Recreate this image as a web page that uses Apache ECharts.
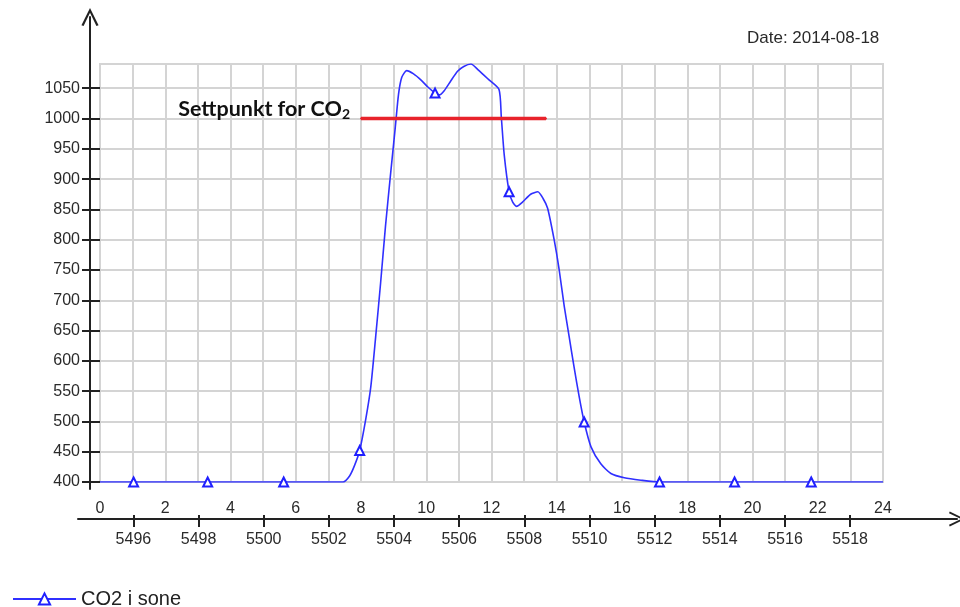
<!DOCTYPE html>
<html>
<head>
<meta charset="utf-8">
<script src="https://cdn.jsdelivr.net/npm/echarts@6/dist/echarts.min.js"></script>
<style>
html,body{margin:0;padding:0;background:#fff;}
#c{width:960px;height:607px;}
</style>
</head>
<body>
<div id="c"></div>
<script>
// ---- data ----
const seriesName = 'CO2 i sone';
const hours = [0, 1.03, 3.3, 5.63, 7.45, 7.65, 7.8, 7.96, 8.15, 8.3, 8.45, 8.6, 8.75, 8.9, 9.05, 9.15, 9.25, 9.4, 9.6, 9.85, 10.05, 10.27, 10.4, 10.55, 10.75, 10.96, 11.15, 11.37, 11.6, 11.9, 12.23, 12.3, 12.39, 12.54, 12.65, 12.77, 12.95, 13.2, 13.42, 13.58, 13.72, 13.92, 14.07, 14.23, 14.38, 14.53, 14.69, 14.84, 15.05, 15.35, 15.66, 16.07, 16.58, 17.15, 19.45, 21.8, 24];
const co2 =   [400, 400, 400, 400, 400, 410, 427, 452, 505, 557, 640, 728, 822, 905, 985, 1040, 1068, 1079, 1074, 1063, 1052, 1042, 1039, 1046, 1062, 1078, 1086, 1090, 1080, 1065, 1048, 1003, 940, 879, 862, 855, 862, 875, 879, 868, 852, 800, 752, 690, 640, 590, 540, 499, 458, 430, 414, 407, 403, 400, 400, 400, 400];
const markerHours = [1.03, 3.3, 5.63, 7.96, 10.27, 12.54, 14.84, 17.15, 19.45, 21.8];
const setpointHours = [8, 13.67];
const setpointValues = [1000, 1000];
const setpointLabel = 'Settpunkt for CO';
const yTickValues = [400, 450, 500, 550, 600, 650, 700, 750, 800, 850, 900, 950, 1000, 1050];
const sampleTickValues = [5496, 5498, 5500, 5502, 5504, 5506, 5508, 5510, 5512, 5514, 5516, 5518];
const sampleRange = [5494.3, 5521.28];
const dateText = 'Date: 2014-08-18';

// ---- build ----
const lineData = hours.map((h, i) => {
  const isMarker = markerHours.indexOf(h) >= 0;
  return isMarker ? {value: [h, co2[i]]} : {value: [h, co2[i]], symbol: 'none'};
});
const setpointData = setpointHours.map((h, i) => ({value: [h, setpointValues[i]]}));
setpointData[0].label = {
  show: true, position: 'left', distance: 10, offset: [0, -9],
  formatter: '{a|' + setpointLabel + '}{b|2}',
  rich: {
    a: {fontFamily: 'Lato', fontWeight: 'bold', fontSize: 21.5, color: '#111'},
    b: {fontFamily: 'Lato', fontWeight: 'bold', fontSize: 14, color: '#111', padding: [9, 0, 0, 0]}
  }
};

const chevron = 'path://M0,20 L10,0 L20,20 L17.5,21 L10,5.5 L2.5,21 Z';
const axisFont = {fontFamily: 'Liberation Sans', fontSize: 16, color: '#2a2a2a'};
const plain = v => String(v);
const chart = echarts.init(document.getElementById('c'), null, {renderer: 'canvas'});
chart.setOption({
  animation: false,
  backgroundColor: '#fff',
  title: {text: dateText, left: 747, top: 30, padding: 0, textStyle: {fontFamily: 'Liberation Sans', fontSize: 17, fontWeight: 'normal', color: '#2a2a2a'}},
  legend: {
    data: [seriesName], left: 12, top: 589, padding: 0, itemWidth: 63, itemHeight: 14, itemGap: 5,
    textStyle: {fontFamily: 'Liberation Sans', fontSize: 20, color: '#222'}
  },
  grid: [
    {left: 100, right: 77, top: 64, bottom: 125, show: true, borderColor: '#d4d4d4', borderWidth: 2, backgroundColor: 'transparent'},
    {left: 90, width: 40, top: 17, bottom: 118},
    {left: 78, right: 3, top: 480, bottom: 88}
  ],
  xAxis: [
    {gridIndex: 0, type: 'value', min: 0, max: 24, interval: 1,
     axisLine: {show: false}, axisTick: {show: false},
     axisLabel: Object.assign({margin: 19, formatter: v => (v % 2 === 0 ? String(v) : '')}, axisFont),
     splitLine: {show: true, lineStyle: {color: '#d4d4d4', width: 2}}},
    {gridIndex: 1, type: 'value', show: false},
    {gridIndex: 2, type: 'value', position: 'bottom', min: sampleRange[0], max: sampleRange[1],
     axisLine: {show: true, symbol: ['none', chevron], symbolSize: [19, 16], lineStyle: {color: '#222', width: 2}},
     axisTick: {show: true, length: 8, customValues: sampleTickValues, lineStyle: {color: '#222', width: 2}},
     axisLabel: Object.assign({margin: 13, customValues: sampleTickValues, formatter: plain}, axisFont),
     splitLine: {show: false}},
    {gridIndex: 2, type: 'value', position: 'bottom', min: sampleRange[0], max: sampleRange[1],
     axisLine: {show: false},
     axisTick: {show: true, inside: true, length: 4, customValues: sampleTickValues, lineStyle: {color: '#222', width: 2}},
     axisLabel: {show: false}, splitLine: {show: false}}
  ],
  yAxis: [
    {gridIndex: 0, type: 'value', min: 400, max: 1090, interval: 50,
     axisLine: {show: false},
     axisTick: {show: true, length: 18, customValues: yTickValues, lineStyle: {color: '#222', width: 2}},
     axisLabel: Object.assign({margin: 20, customValues: yTickValues, formatter: plain}, axisFont),
     splitLine: {show: true, lineStyle: {color: '#d4d4d4', width: 2}}},
    {gridIndex: 1, type: 'value', position: 'left',
     axisLine: {show: true, symbol: ['none', chevron], symbolSize: [20, 18], lineStyle: {color: '#222', width: 2}},
     axisTick: {show: false}, axisLabel: {show: false}, splitLine: {show: false}},
    {gridIndex: 2, type: 'value', show: false}
  ],
  series: [
    {name: seriesName, type: 'line', xAxisIndex: 0, yAxisIndex: 0, data: lineData,
     smooth: 0.22, symbol: 'emptyTriangle', symbolSize: 9,
     lineStyle: {color: '#3030ff', width: 1.6}, itemStyle: {color: '#2020ff', borderWidth: 1.6},
     z: 3},
    {name: 'setpoint', type: 'line', xAxisIndex: 0, yAxisIndex: 0, data: setpointData,
     symbol: 'circle', symbolSize: 2, showSymbol: true,
     itemStyle: {color: '#e8232b'},
     lineStyle: {color: '#e8232b', width: 3.5}, z: 4}
  ]
});
</script>
</body>
</html>
